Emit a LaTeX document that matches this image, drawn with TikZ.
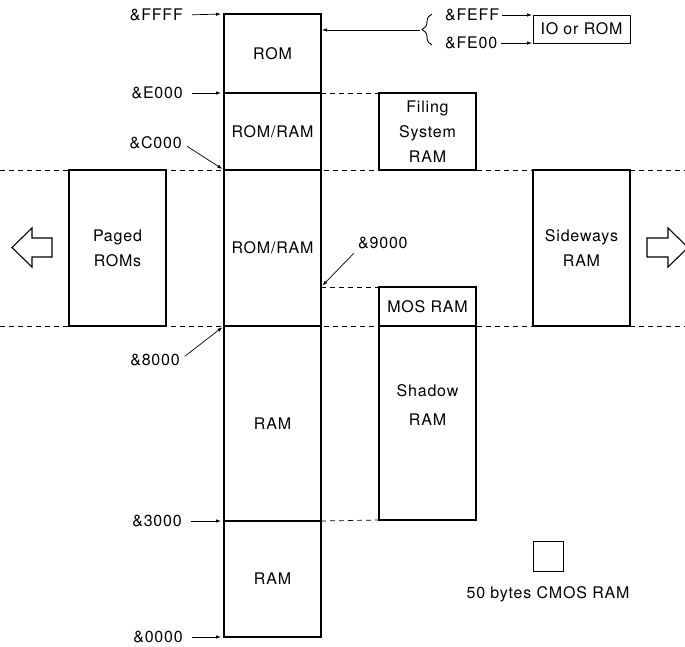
\documentclass[tikz,border=0pt]{standalone}
\usepackage{fontspec}
\setmainfont{TeX Gyre Heros}[LetterSpace=5]
\usetikzlibrary{arrows.meta,positioning,decorations.pathreplacing}

\begin{document}
\begin{tikzpicture}[
  x=1pt, y=-1pt,
  node distance=0pt,
  mem/.style={draw,line width=1.1pt,inner sep=0pt,outer sep=0pt,minimum width=97pt,align=center,font=\fontsize{16}{25}\selectfont},
  addr/.style={inner sep=0pt,font=\fontsize{16}{19}\selectfont},
  ptr/.style={-{Latex[length=5pt,width=3.5pt]},line width=0.7pt,shorten <=9pt,shorten >=3pt},
  guide/.style={line width=0.7pt,dash pattern=on 5pt off 4pt},
  hollow/.style={line width=1.1pt,line join=miter}
]
\clip (0,0) rectangle (685,646);
% main memory column
\node[mem,minimum height=79pt,anchor=north west] (rom) at (224,14) {ROM};
\node[mem,minimum height=77pt,below=of rom] (romhi) {ROM/RAM};
\node[mem,minimum height=156pt,below=of romhi] (romlo) {ROM/RAM};
\node[mem,minimum height=195pt,below=of romlo] (ramhi) {RAM};
\node[mem,minimum height=116pt,below=of ramhi] (ramlo) {RAM};
% side banks
\node[mem,minimum height=77pt,anchor=north west] (filing) at (379,93) {Filing\\System\\RAM};
\node[mem,minimum height=39pt,anchor=north west] (mosram) at (379,287) {MOS RAM};
\node[mem,minimum height=194pt,below=of mosram] (shadow) {};
\node[addr,align=center,font=\fontsize{16}{29}\selectfont,below=58pt of shadow.north] (shadowtxt) {Shadow\\RAM};
\node[mem,minimum height=156pt,anchor=north west] (paged) at (69,170) {Paged\\ROMs};
\node[mem,minimum height=156pt,anchor=north west] (sideways) at (533,170) {Sideways\\RAM};
\node[mem,line width=0.8pt,minimum height=28pt,anchor=north west] (io) at (533,15) {IO or ROM};
\node[mem,line width=0.8pt,minimum width=30pt,minimum height=30pt,anchor=north west] (cmos) at (533,541) {};
\node[addr,below=15pt of cmos] (cmostxt) {50 bytes CMOS RAM};
% addresses
\node[addr,anchor=east] (aFFFF) at (183,15) {\&FFFF};
\node[addr,anchor=east] (aE000) at (183,93) {\&E000};
\node[addr,anchor=east] (aC000) at (182,143) {\&C000};
\node[addr,anchor=east] (a8000) at (180,360) {\&8000};
\node[addr,anchor=east] (a3000) at (182,521) {\&3000};
\node[addr,anchor=east] (a0000) at (183,637) {\&0000};
\node[addr,anchor=west] (a9000) at (358,243) {\&9000};
\node[addr,anchor=west] (aFEFF) at (445,15) {\&FEFF};
\node[addr,anchor=west] (aFE00) at (445,43) {\&FE00};
\coordinate (brc) at (420,30);
% dashed guides
\coordinate (gl1) at (0,170);
\coordinate (gr1) at (685,170);
\coordinate (gl2) at (0,326);
\coordinate (gr2) at (685,326);
\draw[guide] (gl1) -- (gr1);
\draw[guide] (gl2) -- (gr2);
\draw[guide] (rom.south east) -- (filing.north west);
\draw[guide] (romlo.east |- mosram.north) -- (mosram.north west);
\draw[guide] (ramhi.south east) -- (shadow.south west);
% pointers
\draw[ptr] (aFFFF.east) -- (rom.north west);
\draw[ptr] (aE000.east) -- (rom.south west);
\draw[ptr,shorten <=6pt,shorten >=2pt] (aC000.east) -- (romhi.south west);
\draw[ptr,shorten <=6pt,shorten >=2pt] (a8000.east) -- (romlo.south west);
\draw[ptr] (a3000.east) -- (ramhi.south west);
\draw[ptr] (a0000.east) -- (ramlo.south west);
\draw[ptr,shorten <=6pt,shorten >=2pt] (a9000.south west) -- (romlo.east |- mosram.north);
\draw[ptr,shorten <=0pt,shorten >=1pt] (brc) -- (brc -| rom.east);
\draw[ptr,shorten <=3pt,shorten >=1pt] (aFEFF.east) -- (io.north west);
\draw[ptr,shorten <=3pt,shorten >=1pt] (aFE00.east) -- (io.south west);
\draw[line width=0.9pt,decorate,decoration={brace,amplitude=10pt}] (432,45) -- (432,14);
% paging arrows
\draw[hollow] (12,247.5) -- (32,228) -- (32,238) -- (52,238) -- (52,257) -- (32,257) -- (32,267) -- cycle;
\draw[hollow] (647,238) -- (668,238) -- (668,228) -- (688,247.5) -- (668,267) -- (668,257) -- (647,257) -- cycle;
\end{tikzpicture}
\end{document}
